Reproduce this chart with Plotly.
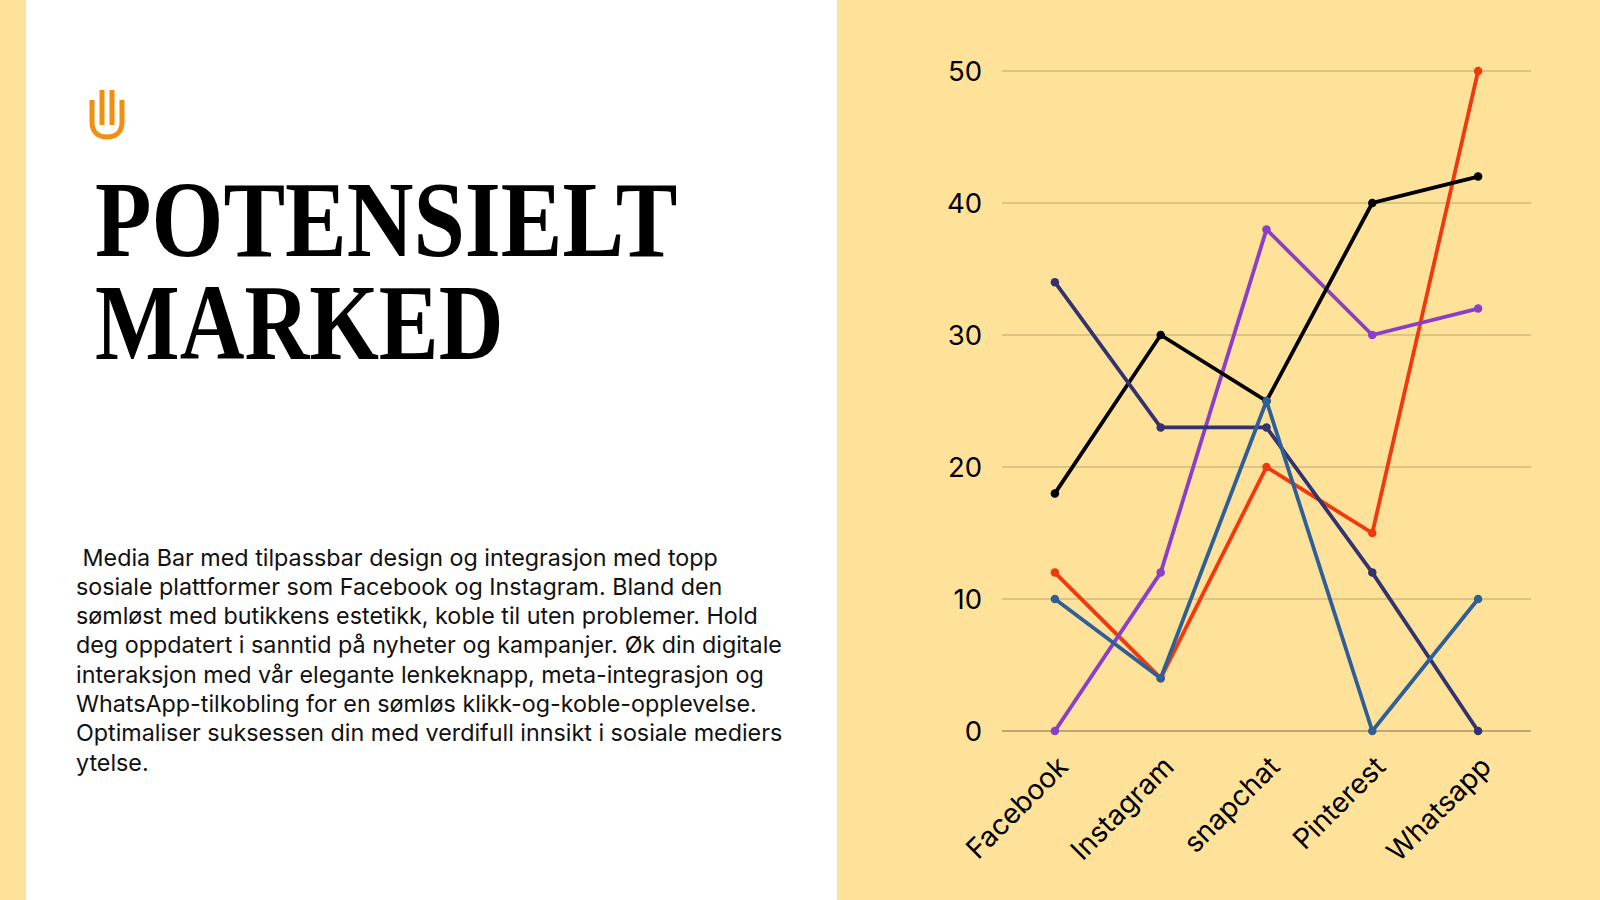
import json
import plotly.graph_objects as go

categories = ["Facebook", "Instagram", "snapchat", "Pinterest", "Whatsapp"]
black_vals = [18, 30, 25, 40, 42]
red_vals = [12, 4, 20, 15, 50]
purple_vals = [0, 12, 38, 30, 32]
navy_vals = [34, 23, 23, 12, 0]
blue_vals = [10, 4, 25, 0, 10]
y_ticks = [0, 10, 20, 30, 40, 50]
title_lines = ["POTENSIELT", "MARKED"]
body_lines = [
    "&nbsp;Media Bar med tilpassbar design og integrasjon med topp",
    "sosiale plattformer som Facebook og Instagram. Bland den",
    "sømløst med butikkens estetikk, koble til uten problemer. Hold",
    "deg oppdatert i sanntid på nyheter og kampanjer. Øk din digitale",
    "interaksjon med vår elegante lenkeknapp, meta-integrasjon og",
    "WhatsApp-tilkobling for en sømløs klikk-og-koble-opplevelse.",
    "Optimaliser suksessen din med verdifull innsikt i sosiale mediers",
    "ytelse.",
]

W, H = 1600, 900
BG = "#FFE299"
FONT = "Inter"

fig = go.Figure()
series = [
    (red_vals, "#F0390F"),
    (purple_vals, "#8B3FC6"),
    (black_vals, "#000000"),
    (navy_vals, "#33336F"),
    (blue_vals, "#2E5F98"),
]
for vals, col in series:
    fig.add_trace(go.Scatter(x=categories, y=vals, mode="lines+markers",
                             line=dict(color=col, width=3.8),
                             marker=dict(color=col, size=8.5), cliponaxis=False,
                             showlegend=False, hoverinfo="skip"))

def px(x): return x / W
def py(y): return 1 - y / H

shapes = [
    dict(type="rect", xref="paper", yref="paper", x0=px(26), x1=px(837), y0=0, y1=1,
         fillcolor="white", line_width=0, layer="below"),
]
ORANGE = "#F28F10"
icon_paths = [
    "M {} {} L {} {} C {} {} {} {} {} {} C {} {} {} {} {} {} L {} {}".format(
        px(92), py(100), px(92), py(122),
        px(92), py(132), px(98), py(137), px(107), py(137),
        px(116), py(137), px(122), py(132), px(122), py(122),
        px(122), py(100)),
    "M {} {} L {} {}".format(px(102), py(90), px(102), py(125)),
    "M {} {} L {} {}".format(px(112), py(90), px(112), py(125)),
]
for p in icon_paths:
    shapes.append(dict(type="path", xref="paper", yref="paper", path=p,
                       line=dict(color=ORANGE, width=5), layer="above"))

annotations = []
for txt, y in zip(title_lines, [220, 322.5]):
    annotations.append(dict(text="<b>" + txt + "</b>", xref="paper", yref="paper", x=px(93), y=py(y),
                            xanchor="left", yanchor="middle", showarrow=False,
                            font=dict(family="Liberation Serif", size=107, color="#000000")))
for i, line in enumerate(body_lines):
    annotations.append(dict(text=line, xref="paper", yref="paper", x=px(73.5), y=py(557 + i * 29.3),
                            xanchor="left", yanchor="middle", showarrow=False,
                            font=dict(family=FONT, size=23.3, color="#111111")))

Y_PAD = 1  # extra axis headroom so the 50 gridline is kept
PX_PER_UNIT = 660 / 50
fig.update_layout(
    width=W, height=H, autosize=False,
    paper_bgcolor=BG, plot_bgcolor=BG,
    margin=dict(l=0, r=0, t=0, b=0),
    shapes=shapes, annotations=annotations,
    font=dict(family=FONT, color="#000000"),
    xaxis=dict(type="category", domain=[1002 / W, 1531 / W], range=[-0.5, 4.5], showgrid=False,
               showline=False, ticks="outside", ticklen=7, tickcolor="rgba(0,0,0,0)",
               tickangle=-45, tickfont=dict(size=28), ticklabelshift=5, zeroline=False, automargin=False),
    yaxis=dict(domain=[1 - 731 / H, 1 - (71 - Y_PAD * PX_PER_UNIT) / H], range=[0, 50 + Y_PAD],
               tickvals=y_ticks, gridcolor="#DCC483", gridwidth=1.5,
               showline=False, zeroline=True, zerolinecolor="#BFA870", zerolinewidth=2,
               ticks="", tickfont=dict(size=27.5), ticklabelstandoff=19, automargin=False),
)
# the reference headline face is narrower than Liberation Serif Bold: condense it horizontally
title_scale = {"POTENSIELT": 0.864, "MARKED": 0.838}
post = """
document.body.style.margin='0';
var s = %s;
document.querySelectorAll('text.annotation-text').forEach(function(t){
  var k = s[t.textContent];
  if (k) { t.style.transformBox='fill-box'; t.style.transformOrigin='left center'; t.style.transform='scaleX('+k+')'; }
});
""" % json.dumps(title_scale)
fig.write_html("out.html", config={"displayModeBar": False}, post_script=post)
